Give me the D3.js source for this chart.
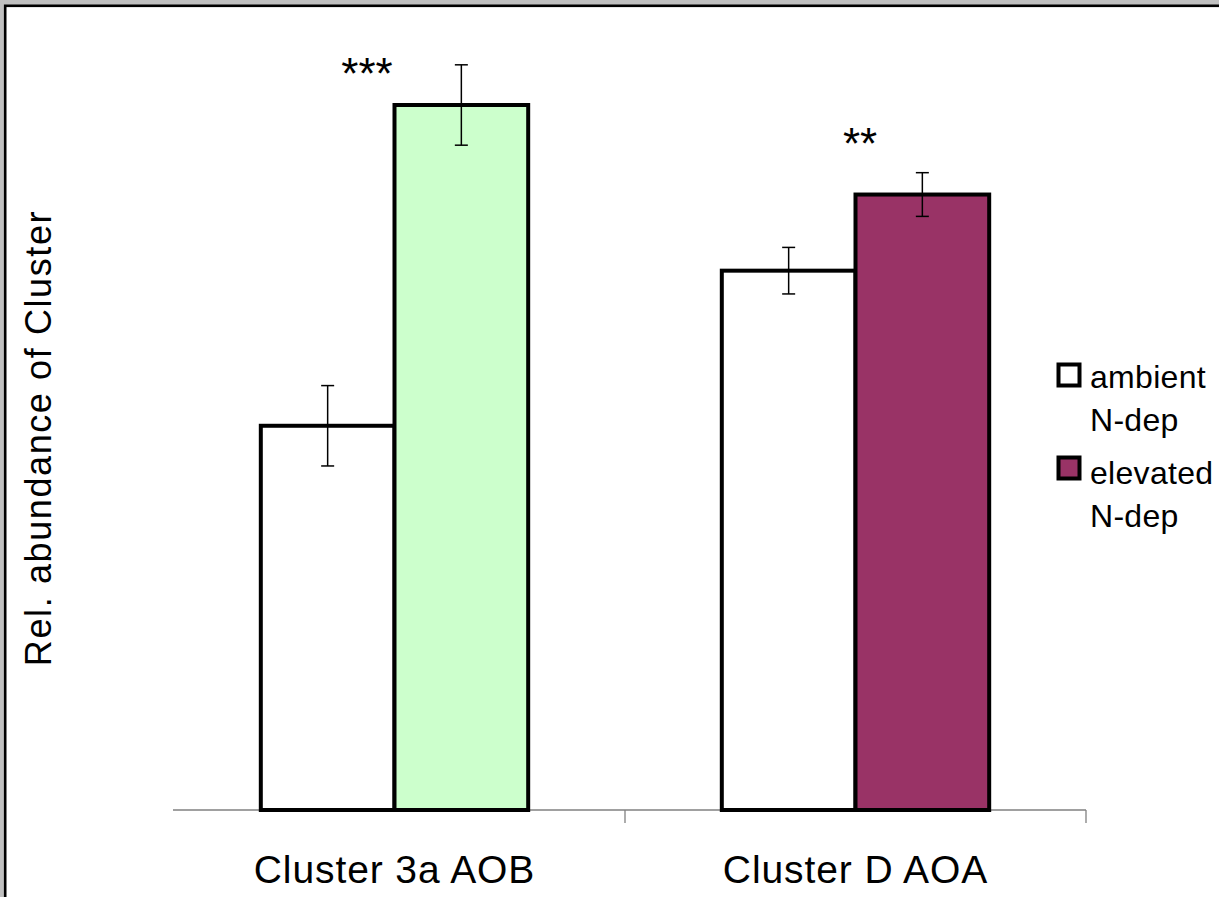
<!DOCTYPE html>
<html>
<head>
<meta charset="utf-8">
<script src="https://cdn.jsdelivr.net/npm/d3@7"></script>
<style>
  html, body { margin: 0; padding: 0; background: #c0c0c0; }
  svg { display: block; }
  text { font-family: "Liberation Sans", Arial, sans-serif; fill: #000; }
</style>
</head>
<body>
<svg id="chart" width="1219" height="897"></svg>
<script>
// ---- data ----
const categories = ["Cluster 3a AOB", "Cluster D AOA"];
const seriesNames = ["ambient N-dep", "elevated N-dep"];
const legendLines = [["ambient", "N-dep"], ["elevated", "N-dep"]];
const ambientValues = [5.45, 7.65];
const elevatedValues = [10.0, 8.73];
const ambientErrors = [0.57, 0.33];
const elevatedErrors = [0.57, 0.31];
const significance = ["***", "**"];
const significanceLevel = [10.23, 9.24];
const yAxisTitle = "Rel. abundance of Cluster";

// ---- layout ----
const W = 1219, H = 897;
const plot = { left: 164, right: 1086, top: 34.5, bottom: 810 };
const colors = { "ambient N-dep": "#ffffff", "elevated N-dep": "#993366" };
const fillFor = (s, ci) => s === "ambient N-dep" ? "#ffffff" : (ci === 0 ? "#ccffcc" : "#993366");
const starDx = [-27.5, 4.5];

const svg = d3.select("#chart");

// frame
svg.append("rect").attr("x", 0).attr("y", 0).attr("width", W).attr("height", H).attr("fill", "#c0c0c0");
svg.append("rect").attr("x", 5.2).attr("y", 5.8).attr("width", W + 20).attr("height", H + 20)
  .attr("fill", "#ffffff").attr("stroke", "#000").attr("stroke-width", 2.6);

const x0 = d3.scaleBand().domain(categories).range([plot.left, plot.right]).paddingInner(0).paddingOuter(0);
const bw = x0.bandwidth();
const frac = 0.58;
const x1 = d3.scaleBand().domain(seriesNames).range([(1 - frac) / 2 * bw, (1 + frac) / 2 * bw]);
const y = d3.scaleLinear().domain([0, 11]).range([plot.bottom, plot.top]);

const rows = categories.map((c, i) => ({
  cat: c, i,
  vals: [
    { s: seriesNames[0], v: ambientValues[i], e: ambientErrors[i] },
    { s: seriesNames[1], v: elevatedValues[i], e: elevatedErrors[i] }
  ]
}));

// x axis line & ticks
const axisG = svg.append("g");
axisG.append("line").attr("x1", 173).attr("x2", plot.right).attr("y1", y(0)).attr("y2", y(0))
  .attr("stroke", "#808080").attr("stroke-width", 1.3);
categories.forEach(c => {
  const tx = x0(c) + bw;
  axisG.append("line").attr("x1", tx).attr("x2", tx).attr("y1", y(0)).attr("y2", y(0) + 13)
    .attr("stroke", "#808080").attr("stroke-width", 1.3);
});

// bars
const groups = svg.append("g").selectAll("g").data(rows).join("g")
  .attr("transform", d => `translate(${x0(d.cat)},0)`);
groups.selectAll("rect").data(d => d.vals.map(v => ({ ...v, ci: d.i }))).join("rect")
  .attr("x", d => x1(d.s))
  .attr("width", x1.bandwidth())
  .attr("y", d => y(d.v))
  .attr("height", d => y(0) - y(d.v))
  .attr("fill", d => fillFor(d.s, d.ci))
  .attr("stroke", "#000").attr("stroke-width", 4);

// error bars
groups.each(function (d) {
  const g = d3.select(this);
  d.vals.forEach(v => {
    const cx = x1(v.s) + x1.bandwidth() / 2;
    const yt = y(v.v + v.e), yb = y(v.v - v.e);
    g.append("line").attr("x1", cx).attr("x2", cx).attr("y1", yt).attr("y2", yb)
      .attr("stroke", "#000").attr("stroke-width", 1.5);
    [yt, yb].forEach(yy => g.append("line").attr("x1", cx - 6.5).attr("x2", cx + 6.5)
      .attr("y1", yy).attr("y2", yy).attr("stroke", "#000").attr("stroke-width", 1.5));
  });
});

// significance stars
categories.forEach((c, i) => {
  svg.append("text").attr("x", x0(c) + bw / 2 + starDx[i]).attr("y", y(significanceLevel[i]))
    .attr("text-anchor", "middle").style("font-size", "44px").text(significance[i]);
});

// category labels
categories.forEach(c => {
  svg.append("text").attr("x", x0(c) + bw / 2).attr("y", 883)
    .attr("text-anchor", "middle").style("font-size", "39px").style("letter-spacing", "0.9px").text(c);
});

// y axis title
svg.append("text").attr("transform", "translate(51,438) rotate(-90)")
  .attr("text-anchor", "middle").style("font-size", "36px").style("letter-spacing", "1.6px").text(yAxisTitle);

// legend
const legend = svg.append("g");
const legY = [375, 468];
const legTextY = [388, 484];
seriesNames.forEach((s, i) => {
  legend.append("rect").attr("x", 1058.5).attr("y", legY[i] - 10.5).attr("width", 21).attr("height", 21)
    .attr("fill", colors[s]).attr("stroke", "#000").attr("stroke-width", 4);
  legendLines[i].forEach((line, j) => {
    legend.append("text").attr("x", 1090).attr("y", legTextY[i] + j * 43)
      .style("font-size", "32px").style("letter-spacing", "0.3px").text(line);
  });
});
</script>
</body>
</html>
